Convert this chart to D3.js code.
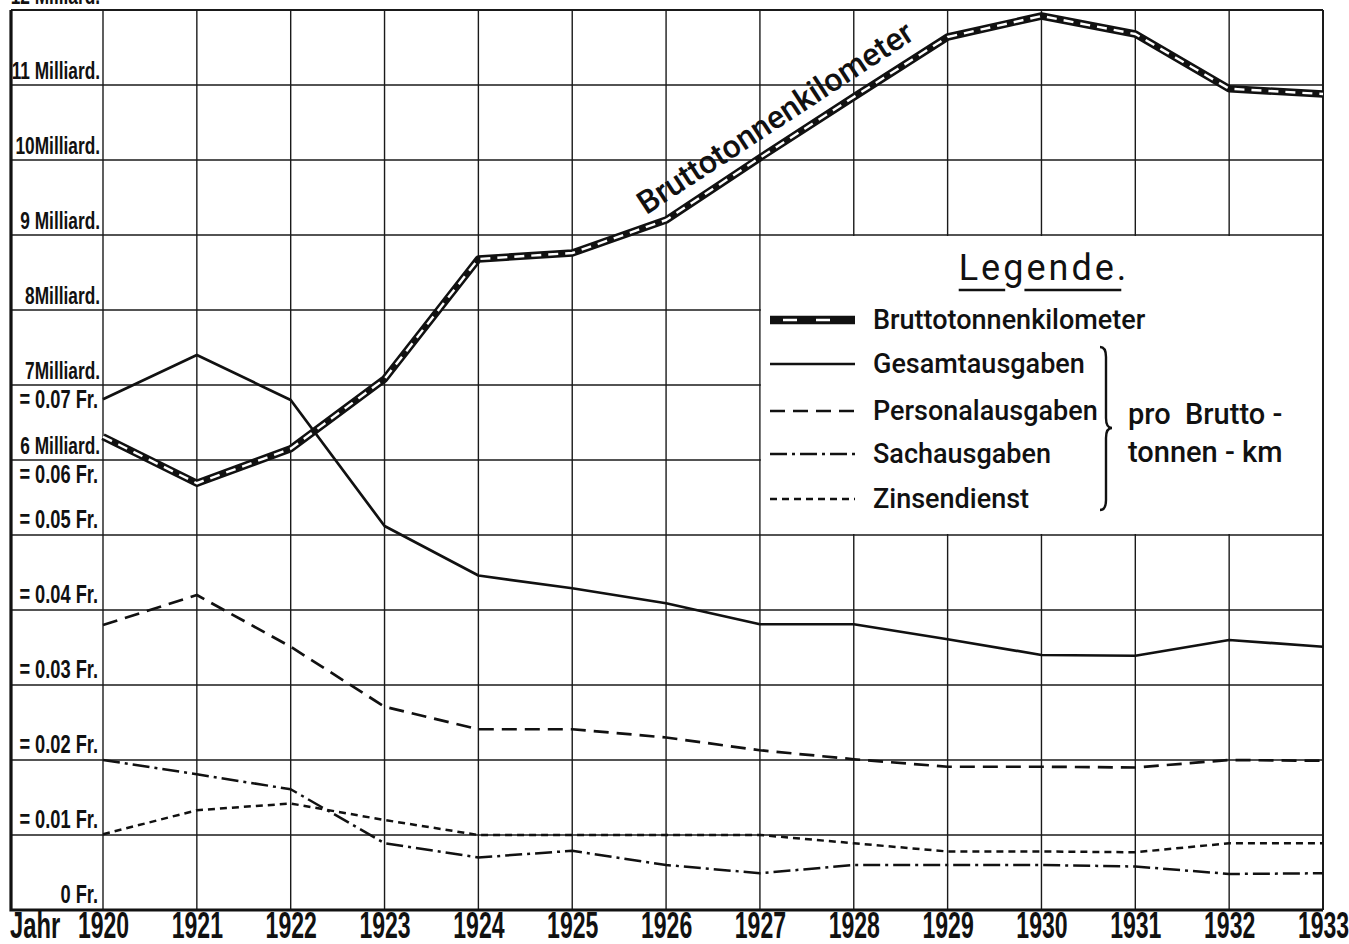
<!DOCTYPE html>
<html>
<head>
<meta charset="utf-8">
<script src="https://cdn.jsdelivr.net/npm/d3@7"></script>
<style>
	html,body	{ margin:0; padding:0; background:#fff; overflow:hidden; }
	svg				{ display:block; }
	.lbl			{ font-family:'Liberation Sans Narrow','Liberation Sans',sans-serif; font-weight:bold; fill:#111; }
	.lg				{ font-family:Roboto,'Open Sans',sans-serif; font-weight:500; fill:#111; }
</style>
</head>
<body>
<svg id="chart" width="1349" height="944"></svg>
<script>

var fc = 0;

// data
var years			= [1920,1921,1922,1923,1924,1925,1926,1927,1928,1929,1930,1931,1932,1933];
var brutto		= [6.31,5.69,6.15,7.08,8.68,8.76,9.20,10.03,10.84,11.64,11.92,11.68,10.95,10.88];	// Milliarden
var gesamt		= [0.0681,0.0740,0.0680,0.0512,0.0446,0.0429,0.0409,0.0381,0.0381,0.0361,0.0340,0.0339,0.0360,0.0351];
var personal	= [0.0380,0.0420,0.0351,0.0271,0.0241,0.0241,0.0230,0.0213,0.0201,0.0191,0.0191,0.0190,0.0200,0.0199];
var sach			= [0.0200,0.0181,0.0161,0.0089,0.0070,0.0079,0.0060,0.0049,0.0060,0.0060,0.0060,0.0058,0.0048,0.0049];
var zins			= [0.0101,0.0133,0.0142,0.0120,0.0100,0.0100,0.0100,0.0100,0.0089,0.0078,0.0078,0.0077,0.0089,0.0089];

var mrdTicks	= [6,7,8,9,10,11,12];
var mrdLabels	= ['6 Milliard.','7Milliard.','8Milliard.','9 Milliard.','10Milliard.','11 Milliard.','12 Milliard.'];
var frTicks		= [0,0.01,0.02,0.03,0.04,0.05,0.06,0.07];
var frLabels	= ['0 Fr.','= 0.01 Fr.','= 0.02 Fr.','= 0.03 Fr.','= 0.04 Fr.','= 0.05 Fr.','= 0.06 Fr.','= 0.07 Fr.'];

var legendKeys	= ['brutto','gesamt','personal','sach','zins'];
var legendNames	= ['Bruttotonnenkilometer','Gesamtausgaben','Personalausgaben','Sachausgaben','Zinsendienst'];
var braceText		= ['pro  Brutto -','tonnen - km'];


var L = 11, R = 1323, T = 10, B = 910;

var x		= d3.scaleLinear().domain([1920,1933]).range([103,R]),
		y		= d3.scaleLinear().domain([0,12]).range([B,T]),
		yF	= d3.scaleLinear().domain([0,0.12]).range([B,T]);

var styles = {
	gesamt:		{ w:2.7, dash:null },
	personal:	{ w:2.7, dash:'15,8' },
	sach:			{ w:2.5, dash:'17,5,3,5' },
	zins:			{ w:2.5, dash:'7,5' },
};

var svg = d3.select('#chart');


//------------------------------------------------------------------
//
//------------------------------------------------------------------
function chart_grid(cb)	{

	var f = '['+(fc++)+'] chart_grid',
	dbg=0, fEnd=function(){ dbg&&console.timeEnd(f); if (typeof cb=='function') cb() };
	if (dbg){ console.time(f) };

	svg.append('rect').attr('width',1349).attr('height',944).attr('fill','#fff');

	svg.append('g')
		.attr('class','grid')
		.call(sel=>{

			sel.selectAll('.h').data(y.ticks(12))
				.enter()
					.append('line')
						.attr('x1',L).attr('x2',R)
						.attr('y1',d=>y(d)).attr('y2',d=>y(d))
						.attr('stroke','#1a1a1a')
						.attr('stroke-width',d=>d==12 ? 2 : 1.4);

			sel.selectAll('.v').data(years)
				.enter()
					.append('line')
						.attr('x1',d=>x(d)).attr('x2',d=>x(d))
						.attr('y1',T).attr('y2',B)
						.attr('stroke','#1a1a1a')
						.attr('stroke-width',d=>d==1933 ? 2 : 1.4);

			// heavy frame left + bottom
			sel.append('path')
				.attr('d','M'+L+','+T+'V'+B+'H'+R)
				.attr('fill','none')
				.attr('stroke','#111')
				.attr('stroke-width',3.2);

		});

	fEnd();
}


//------------------------------------------------------------------
//
//------------------------------------------------------------------
function chart_axes(cb)	{

	var f = '['+(fc++)+'] chart_axes',
	dbg=0, fEnd=function(){ dbg&&console.timeEnd(f); if (typeof cb=='function') cb() };
	if (dbg){ console.time(f) };

	var xAxis = d3.axisBottom(x).tickValues(years).tickSize(0).tickPadding(0).tickFormat(d3.format('d'));

	svg.append('g')
		.attr('transform','translate(0,'+B+')')
		.call(xAxis)
		.call(sel=>{
			sel.select('.domain').remove();
			sel.selectAll('text')
				.attr('class','lbl')
				.attr('y',28)
				.attr('dy',null)
				.style('font-size','36px')
				.attr('transform','scale(0.64,1)');
		});

	svg.append('text')
		.attr('class','lbl')
		.attr('transform','translate(10,'+(B+28)+') scale(0.66,1)')
		.style('font-size','36px')
		.text('Jahr');

	// milliard labels sit above their line
	svg.append('g').selectAll('g').data(mrdTicks)
		.enter()
			.append('g')
				.attr('transform',d=>'translate(100,'+(y(d)-6)+')')
				.append('text')
					.attr('class','lbl')
					.attr('text-anchor','end')
					.attr('transform','scale(0.72,1)')
					.style('font-size','24px')
					.text((d,i)=>mrdLabels[i]);

	// franc labels, the two top ones go below the line
	svg.append('g').selectAll('g').data(frTicks)
		.enter()
			.append('g')
				.attr('transform',d=>'translate(98,'+(yF(d) + (d>0.055 ? 23 : -7))+')')
				.append('text')
					.attr('class','lbl')
					.attr('text-anchor','end')
					.attr('transform','scale(0.73,1)')
					.style('font-size','25px')
					.text((d,i)=>frLabels[i]);

	fEnd();
}


//------------------------------------------------------------------
//
//------------------------------------------------------------------
function chart_lines(cb)	{

	var f = '['+(fc++)+'] chart_lines',
	dbg=0, fEnd=function(){ dbg&&console.timeEnd(f); if (typeof cb=='function') cb() };
	if (dbg){ console.time(f) };

	var lineF = d3.line().x((d,i)=>x(years[i])).y(d=>yF(d));
	var lineM = d3.line().x((d,i)=>x(years[i])).y(d=>y(d));

	var series = { gesamt:gesamt, personal:personal, sach:sach, zins:zins };

	svg.append('g')
		.attr('class','lines')
		.call(sel=>{

			Object.keys(series).forEach(k=>{
				sel.append('path')
					.attr('d',lineF(series[k]))
					.attr('fill','none')
					.attr('stroke','#111')
					.attr('stroke-width',styles[k].w)
					.attr('stroke-dasharray',styles[k].dash)
					.attr('stroke-linejoin','round');
			});

			sel.append('path')
				.attr('d',lineM(brutto))
				.attr('fill','none')
				.attr('stroke','#111')
				.attr('stroke-width',7.5)
				.attr('stroke-linejoin','round');

			sel.append('path')
				.attr('d',lineM(brutto))
				.attr('fill','none')
				.attr('stroke','#fff')
				.attr('stroke-width',2.4)
				.attr('stroke-dasharray','10,7')
				.attr('stroke-linejoin','round');

		});

	// label along the rising part
	var i0 = years.indexOf(1926), i1 = years.indexOf(1928),
			ang = Math.atan2(y(brutto[i1])-y(brutto[i0]), x(years[i1])-x(years[i0])) * 180/Math.PI;

	svg.append('text')
		.attr('class','lg')
		.attr('transform','translate('+x(years[i0])+','+y(brutto[i0])+') rotate('+ang+')')
		.attr('x',-14)
		.attr('y',-15)
		.style('font-size','32px')
		.style('font-weight',500)
		.text('Bruttotonnenkilometer');

	fEnd();
}


//------------------------------------------------------------------
//
//------------------------------------------------------------------
function chart_legend(cb)	{

	var f = '['+(fc++)+'] chart_legend',
	dbg=0, fEnd=function(){ dbg&&console.timeEnd(f); if (typeof cb=='function') cb() };
	if (dbg){ console.time(f) };

	var bx0 = x(1927), bx1 = x(1933), by0 = y(9), by1 = yF(0.05),
			rows = [320,364,411,454,499],
			sx0 = 770, sx1 = 855, tx = 873;

	// blank the grid inside the legend
	svg.insert('rect','.lines')
		.attr('x',bx0+1).attr('y',by0+1)
		.attr('width',bx1-bx0-2).attr('height',by1-by0-2)
		.attr('fill','#fff');

	svg.append('g')
		.attr('class','legend')
		.call(sel=>{

			var title = sel.append('text')
				.attr('class','lg')
				.attr('x',1044).attr('y',280)
				.attr('text-anchor','middle')
				.style('font-size','36px')
				.style('font-weight',400)
				.style('letter-spacing','3px')
				.text('Legende.');

			// underline, broken at the g
			var n = title.node(), bb = n.getBBox(), g = n.getExtentOfChar(2), uy = 290;
			sel.append('path')
				.attr('d','M'+bb.x+','+uy+'H'+(g.x+2)+'M'+(g.x+g.width-2)+','+uy+'H'+(bb.x+bb.width-8))
				.attr('stroke','#111')
				.attr('stroke-width',2.5);

			legendKeys.forEach((k,i)=>{

				if (k=='brutto')	{
					sel.append('line')
						.attr('x1',sx0).attr('x2',sx1).attr('y1',rows[i]).attr('y2',rows[i])
						.attr('stroke','#111').attr('stroke-width',8.5);
					sel.append('line')
						.attr('x1',sx0+13).attr('x2',sx1-13).attr('y1',rows[i]).attr('y2',rows[i])
						.attr('stroke','#fff').attr('stroke-width',2.6)
						.attr('stroke-dasharray','14,19');
				} else	{
					sel.append('line')
						.attr('x1',sx0).attr('x2',sx1).attr('y1',rows[i]).attr('y2',rows[i])
						.attr('stroke','#111')
						.attr('stroke-width',styles[k].w)
						.attr('stroke-dasharray',styles[k].dash);
				}

				sel.append('text')
					.attr('class','lg')
					.attr('x',tx).attr('y',rows[i]+9)
					.style('font-size','27px')
					.text(legendNames[i]);
			});

			// brace
			var bx = 1100, w = 12, y0 = 347, y1 = 510, ym = 428, r = 10;
			sel.append('path')
				.attr('d','M'+bx+','+y0+
					'Q'+(bx+w/2)+','+y0+' '+(bx+w/2)+','+(y0+r)+
					'L'+(bx+w/2)+','+(ym-r)+
					'Q'+(bx+w/2)+','+ym+' '+(bx+w)+','+ym+
					'Q'+(bx+w/2)+','+ym+' '+(bx+w/2)+','+(ym+r)+
					'L'+(bx+w/2)+','+(y1-r)+
					'Q'+(bx+w/2)+','+y1+' '+bx+','+y1)
				.attr('fill','none')
				.attr('stroke','#111')
				.attr('stroke-width',2.4);

			sel.selectAll('.bt').data(braceText)
				.enter()
					.append('text')
						.attr('class','lg')
						.attr('x',1128)
						.attr('y',(d,i)=>424+i*38)
						.style('font-size','29px')
						.style('white-space','pre')
						.text(d=>d);
		});

	fEnd();
}


chart_grid();
chart_axes();
chart_lines();
chart_legend();

</script>
</body>
</html>
